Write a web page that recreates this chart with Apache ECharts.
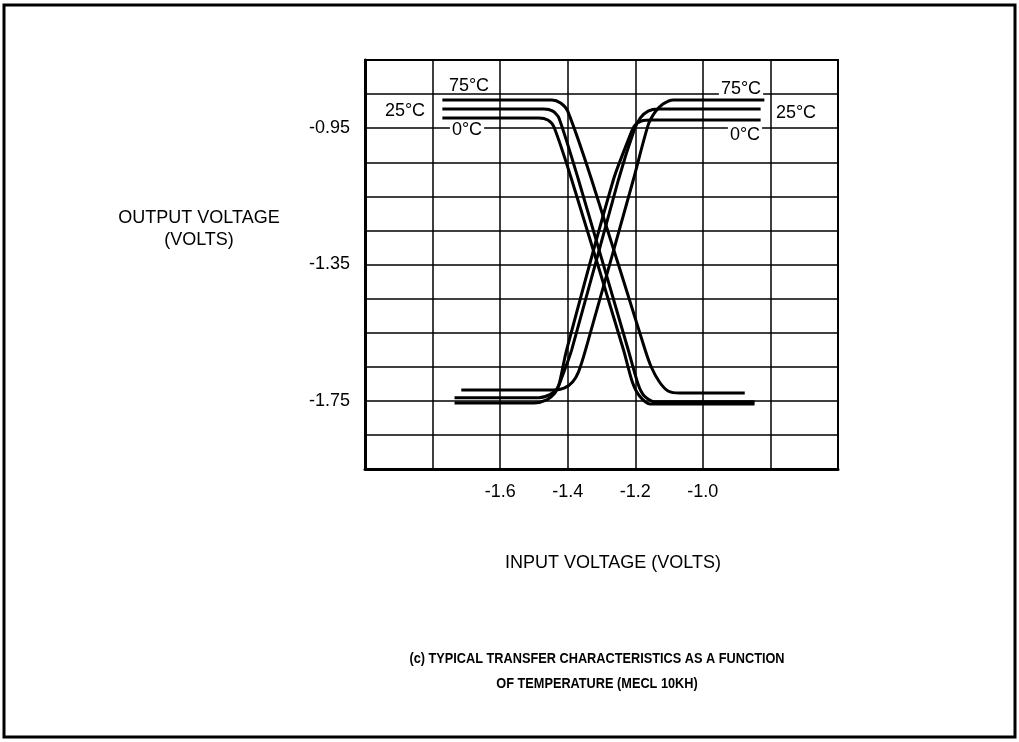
<!DOCTYPE html>
<html lang="en">
<head>
<meta charset="UTF-8">
<title>MECL 10KH transfer characteristics</title>
<script src="https://cdn.jsdelivr.net/npm/echarts@6/dist/echarts.min.js"></script>
<style>
  html, body { margin: 0; padding: 0; background: #fff; }
  #chart { width: 1019px; height: 742px; }
</style>
</head>
<body>
<div id="chart"></div>
<script>
    // [input V, output V]
    var temps = ['0°C', '25°C', '75°C'];

    // NOR side (falling)
    var nor0 = [[-1.771, -0.920], [-1.485, -0.920], [-1.459, -0.926], [-1.441, -0.946], [-1.388, -1.102],
        [-1.235, -1.600], [-1.209, -1.694], [-1.188, -1.735], [-1.156, -1.759], [-0.847, -1.759]];
    var nor25 = [[-1.771, -0.894], [-1.471, -0.894], [-1.444, -0.900], [-1.426, -0.920], [-1.368, -1.102],
        [-1.221, -1.600], [-1.191, -1.703], [-1.174, -1.735], [-1.144, -1.753], [-0.847, -1.753]];
    var nor75 = [[-1.771, -0.867], [-1.447, -0.867], [-1.421, -0.876], [-1.400, -0.900], [-1.329, -1.102],
        [-1.171, -1.600], [-1.153, -1.650], [-1.129, -1.694], [-1.103, -1.721], [-1.068, -1.727], [-0.876, -1.727]];

    // OR side (rising)
    var or0 = [[-1.735, -1.756], [-1.500, -1.756], [-1.462, -1.747], [-1.438, -1.727], [-1.426, -1.703],
        [-1.403, -1.600], [-1.265, -1.102], [-1.221, -0.985], [-1.203, -0.944], [-1.182, -0.929],
        [-1.147, -0.926], [-0.829, -0.926]];
    var or25 = [[-1.735, -1.741], [-1.485, -1.741], [-1.453, -1.732], [-1.432, -1.715], [-1.418, -1.683],
        [-1.388, -1.600], [-1.250, -1.102], [-1.203, -0.955], [-1.185, -0.920], [-1.162, -0.900],
        [-1.132, -0.894], [-0.829, -0.894]];
    var or75 = [[-1.715, -1.718], [-1.441, -1.718], [-1.409, -1.712], [-1.385, -1.694], [-1.368, -1.665],
        [-1.347, -1.600], [-1.206, -1.102], [-1.162, -0.941], [-1.141, -0.902], [-1.118, -0.879],
        [-1.088, -0.867], [-0.818, -0.867]];

    var xTickLabels = [-1.6, -1.4, -1.2, -1.0];
    var yTickLabels = [-0.95, -1.35, -1.75];

    var curves = [nor0, nor25, nor75, or0, or25, or75];
    var names = [temps[0], temps[1], temps[2], temps[0], temps[1], temps[2]];

    function hasTick(list, v) {
        for (var i = 0; i < list.length; i++) {
            if (Math.abs(list[i] - v) < 1e-6) return true;
        }
        return false;
    }

    var font = '"Liberation Sans", Arial, sans-serif';

    var series = [];
    for (var i = 0; i < curves.length; i++) {
        series.push({
            name: names[i],
            type: 'line',
            data: curves[i],
            showSymbol: false,
            smooth: 0.25,
            lineStyle: { color: '#000', width: 3 },
            z: 3
        });
    }

    function tag(txt, x, y, bg) {
        return {
            type: 'text', x: x, y: y, z: 10,
            style: {
                text: txt, fill: '#000', font: '18px ' + font,
                align: 'center', verticalAlign: 'middle',
                backgroundColor: bg ? '#fff' : null, padding: bg ? [0, 2] : 0
            }
        };
    }

    var myChart = echarts.init(document.getElementById('chart'));
    var option = {
        animation: false,
        backgroundColor: '#fff',
        grid: {
            left: 365, top: 60, width: 473, height: 409,
            show: true, borderColor: '#000', borderWidth: 2
        },
        xAxis: {
            type: 'value',
            min: -2.0, max: -0.6, interval: 0.2,
            axisLine: { show: true, onZero: false, lineStyle: { color: '#000', width: 3 } },
            axisTick: { show: false },
            splitLine: { show: true, lineStyle: { color: '#000', width: 1.5 } },
            axisLabel: {
                margin: 14, color: '#000', fontSize: 18, fontFamily: font,
                formatter: function (v) { return hasTick(xTickLabels, v) ? v.toFixed(1) : ''; }
            }
        },
        yAxis: {
            type: 'value',
            min: -1.95, max: -0.75, interval: 0.05,
            axisLine: { show: true, onZero: false, lineStyle: { color: '#000', width: 3 } },
            axisTick: { show: false },
            // gridlines every 0.1 V: every other 0.05 tick is hidden
            splitLine: { show: true, lineStyle: { color: ['#000', 'rgba(0,0,0,0)'], width: 1.5 } },
            axisLabel: {
                margin: 15, color: '#000', fontSize: 18, fontFamily: font,
                formatter: function (v) { return hasTick(yTickLabels, v) ? v.toFixed(2) : ''; }
            }
        },
        graphic: [
            { type: 'rect', shape: { x: 4, y: 5, width: 1011, height: 732 }, style: { fill: null, stroke: '#000', lineWidth: 3 } },
            { type: 'text', x: 199, y: 229, style: { text: 'OUTPUT VOLTAGE\n(VOLTS)', fill: '#000', font: '18px ' + font, align: 'center', verticalAlign: 'middle', lineHeight: 22 } },
            { type: 'text', x: 613, y: 563, style: { text: 'INPUT VOLTAGE (VOLTS)', fill: '#000', font: '18px ' + font, align: 'center', verticalAlign: 'middle' } },
            { type: 'text', x: 597, y: 672, scaleX: 0.91, style: { text: '(c) TYPICAL TRANSFER CHARACTERISTICS AS A FUNCTION\nOF TEMPERATURE (MECL 10KH)', fill: '#000', font: 'bold 14px ' + font, align: 'center', verticalAlign: 'middle', lineHeight: 25 } },
            tag('75°C', 469, 86, false),
            tag('25°C', 405, 111, false),
            tag('0°C', 467, 130, true),
            tag('75°C', 741, 89, true),
            tag('25°C', 796, 113, true),
            tag('0°C', 745, 135, true)
        ],
        series: series
    };
    myChart.setOption(option);
</script>
</body>
</html>
